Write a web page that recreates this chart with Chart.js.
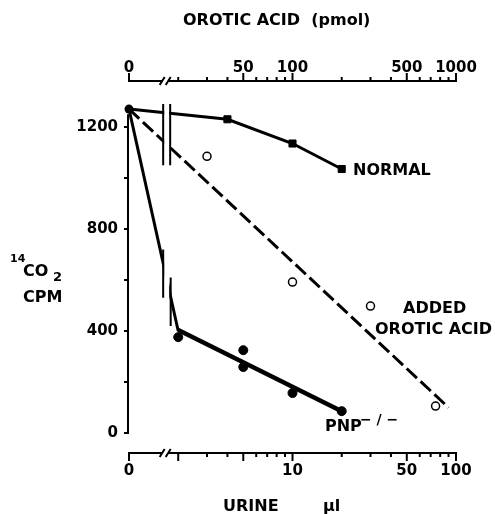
<!DOCTYPE html>
<html>
<head>
<meta charset="utf-8">
<script src="https://cdn.jsdelivr.net/npm/chart.js@4.4.0/dist/chart.umd.min.js"></script>
<style>
  html, body { margin: 0; padding: 0; background: #fff; }
  canvas { display: block; }
</style>
</head>
<body>
<canvas id="chart" width="495" height="514"></canvas>
<script>
// Values: x = urine (µl), y = 14CO2 (cpm)
const startX = [0];
const startY = [1270];

const normalX = [0, 4, 10, 20];
const normalY = [1270, 1230, 1135, 1035];

const addedX = [3, 10, 30, 75];
const addedY = [1085, 592, 498, 106];
const addedLineX = [0, 90];
const addedLineY = [1270, 100];

const pnpX = [2, 5, 5, 10, 20];
const pnpY = [376, 325, 259, 157, 86];
const pnpDropX = [0, 2];
const pnpDropY = [1270, 400];
const pnpFitX = [2, 20];
const pnpFitY = [404, 86];

// Axis ticks
const urineTicks = [0, 2, 3, 4, 5, 6, 7, 8, 9, 10, 20, 30, 40, 50, 60, 70, 80, 90, 100];
const urineLabels = [0, 10, 50, 100];
const urineMajor = [0, 2, 5, 10, 50, 100];
const orotTicks = [0, 20, 30, 40, 50, 60, 70, 80, 90, 100, 200, 300, 400, 500, 600, 700, 800, 900, 1000];
const orotLabels = [0, 50, 100, 500, 1000];
const cpmTicks = [0, 200, 400, 600, 800, 1000, 1200];
const cpmLabels = [0, 400, 800, 1200];

const BLACK = '#000';
const FONT = 'DejaVu Sans';

// log axis that keeps a separate 0 at its left end (broken axis)
class BrokenLogScale extends Chart.Scale {
  determineDataLimits() {
    this.min = 0;
    this.max = this.options.max;
  }
  buildTicks() {
    return this.options.tickValues.map(v => ({ value: v }));
  }
  getLabelForValue(v) {
    return String(v);
  }
  getPixelForValue(v) {
    const low = this.options.low;
    const d = v > 0 ? Math.log10(v / low) / Math.log10(this.max / low) : 0;
    return this.getPixelForDecimal(d);
  }
  getValueForPixel(p) {
    const low = this.options.low;
    return low * Math.pow(this.max / low, this.getDecimalForPixel(p));
  }
}
BrokenLogScale.id = 'brokenLog';
BrokenLogScale.defaults = {};
Chart.register(BrokenLogScale);

function pts(xs, ys) {
  return xs.map((x, i) => ({ x: x, y: ys[i] }));
}

function drawBrokenAxis(ctx, scale, area, yPix, dir, ticks, majors) {
  const bx = scale.getPixelForValue(scale.options.breakAt);
  ctx.beginPath();
  ctx.moveTo(area.left - 1, yPix);
  ctx.lineTo(bx - 5, yPix);
  ctx.moveTo(bx - 7, yPix + 4);
  ctx.lineTo(bx - 2, yPix - 4);
  ctx.moveTo(bx - 1, yPix + 4);
  ctx.lineTo(bx + 4, yPix - 4);
  ctx.moveTo(bx + 2, yPix);
  ctx.lineTo(area.right + 1, yPix);
  ctx.stroke();
  ticks.forEach(v => {
    const px = scale.getPixelForValue(v);
    const len = majors.includes(v) ? 8 : 4;
    ctx.beginPath();
    ctx.moveTo(px, yPix);
    ctx.lineTo(px, yPix + dir * len);
    ctx.stroke();
  });
}

const figureArt = {
  id: 'figureArt',
  afterDatasetsDraw(chart) {
    const { ctx, chartArea: a, scales: { x, y } } = chart;
    const bx = x.getPixelForValue(x.options.breakAt);
    ctx.save();
    // cut the lines where the x axis is broken
    ctx.fillStyle = '#fff';
    ctx.fillRect(bx - 2.5, y.getPixelForValue(1320), 5, y.getPixelForValue(380) - y.getPixelForValue(1320));
    ctx.strokeStyle = BLACK;
    ctx.lineWidth = 2;
    ctx.beginPath();
    ctx.moveTo(bx - 3.5, y.getPixelForValue(1290));
    ctx.lineTo(bx - 3.5, y.getPixelForValue(1050));
    ctx.moveTo(bx + 3.5, y.getPixelForValue(1290));
    ctx.lineTo(bx + 3.5, y.getPixelForValue(1050));
    ctx.moveTo(bx - 3.5, y.getPixelForValue(720));
    ctx.lineTo(bx - 3.5, y.getPixelForValue(530));
    ctx.moveTo(bx + 4, y.getPixelForValue(610));
    ctx.lineTo(bx + 4, y.getPixelForValue(420));
    ctx.stroke();
    ctx.restore();
  },
  afterDraw(chart) {
    const { ctx, chartArea: a, scales: { x, xTop, y } } = chart;
    ctx.save();
    ctx.strokeStyle = BLACK;
    ctx.lineWidth = 2;
    // y axis line, only over the data range
    ctx.beginPath();
    ctx.moveTo(a.left - 1, y.getPixelForValue(0) + 1);
    ctx.lineTo(a.left - 1, y.getPixelForValue(1250));
    ctx.stroke();
    drawBrokenAxis(ctx, x, a, a.bottom, 1, urineTicks, urineMajor);
    drawBrokenAxis(ctx, xTop, a, a.top, -1, orotTicks, orotLabels);

    ctx.fillStyle = BLACK;
    ctx.textAlign = 'left';
    ctx.textBaseline = 'alphabetic';
    ctx.font = 'bold 16px "' + FONT + '"';
    ctx.fillText('OROTIC ACID  (pmol)', 183, 25);
    ctx.fillText('URINE', 223, 511);
    ctx.fillText('µl', 323, 511);
    ctx.fillText('NORMAL', 353, 175);
    ctx.fillText('ADDED', 403, 313);
    ctx.fillText('OROTIC ACID', 375, 334);
    ctx.fillText('PNP', 325, 431);
    ctx.fillText('CO', 23, 276);
    ctx.fillText('CPM', 23, 302);
    ctx.font = 'bold 14px "' + FONT + '"';
    ctx.fillText('− / −', 360, 424);
    ctx.font = 'bold 11px "' + FONT + '"';
    ctx.fillText('14', 10, 262);
    ctx.font = 'bold 13px "' + FONT + '"';
    ctx.fillText('2', 53, 281);
    ctx.restore();
  }
};

const tickFont = { family: FONT, weight: 'bold', size: 15 };

new Chart(document.getElementById('chart'), {
  type: 'scatter',
  data: {
    datasets: [
      {
        label: 'start',
        data: pts(startX, startY),
        pointRadius: 4.5,
        pointBackgroundColor: BLACK,
        pointBorderColor: BLACK,
        borderWidth: 0,
        clip: false
      },
      {
        label: 'PNP-/- points',
        data: pts(pnpX, pnpY),
        pointRadius: 4.5,
        pointBackgroundColor: BLACK,
        pointBorderColor: BLACK,
        clip: false
      },
      {
        label: 'added orotic acid points',
        data: pts(addedX, addedY),
        pointRadius: 4,
        pointBorderWidth: 1.5,
        pointBackgroundColor: '#fff',
        pointBorderColor: BLACK,
        clip: false
      },
      {
        label: 'NORMAL',
        data: pts(normalX, normalY),
        showLine: true,
        borderColor: BLACK,
        borderWidth: 3,
        pointStyle: 'rect',
        pointRadius: [0, 5, 5, 5],
        pointBorderWidth: 1,
        pointBackgroundColor: BLACK,
        pointBorderColor: BLACK,
        clip: false
      },
      {
        label: 'PNP-/- fit',
        data: pts(pnpFitX, pnpFitY),
        showLine: true,
        borderColor: BLACK,
        borderWidth: 4.5,
        pointRadius: 0,
        clip: false
      },
      {
        label: 'PNP-/- drop',
        data: pts(pnpDropX, pnpDropY),
        showLine: true,
        borderColor: BLACK,
        borderWidth: 3,
        pointRadius: 0,
        clip: false
      },
      {
        label: 'added orotic acid line',
        data: pts(addedLineX, addedLineY),
        showLine: true,
        borderColor: BLACK,
        borderWidth: 3,
        borderDash: [14, 5],
        pointRadius: 0,
        clip: false
      }
    ]
  },
  options: {
    responsive: false,
    animation: false,
    layout: { padding: { left: 0, right: 39, top: 0, bottom: 0 } },
    plugins: {
      legend: { display: false },
      tooltip: { enabled: false }
    },
    scales: {
      x: {
        type: 'brokenLog',
        position: 'bottom',
        max: 100,
        low: 1,
        breakAt: 1.7,
        tickValues: urineTicks,
        grid: { display: false, drawTicks: false },
        border: { display: false },
        ticks: {
          autoSkip: false,
          maxRotation: 0,
          padding: 9,
          color: BLACK,
          font: tickFont,
          callback: v => urineLabels.includes(v) ? String(v) : ''
        },
        afterFit: s => { s.height = 61; }
      },
      xTop: {
        type: 'brokenLog',
        position: 'top',
        max: 1000,
        low: 10,
        breakAt: 17,
        tickValues: orotTicks,
        grid: { display: false, drawTicks: false },
        border: { display: false },
        ticks: {
          autoSkip: false,
          maxRotation: 0,
          padding: 4,
          color: BLACK,
          font: tickFont,
          callback: v => orotLabels.includes(v) ? String(v) : ''
        },
        afterFit: s => { s.height = 81; }
      },
      y: {
        type: 'linear',
        min: -78,
        max: 1380,
        afterBuildTicks: s => { s.ticks = cpmTicks.map(v => ({ value: v })); },
        grid: { drawOnChartArea: false, drawTicks: true, tickLength: 5, lineWidth: 2, color: BLACK },
        border: { display: false },
        ticks: {
          padding: 6,
          color: BLACK,
          font: tickFont,
          callback: v => cpmLabels.includes(v) ? String(v) : ''
        },
        afterFit: s => { s.width = 129; }
      }
    }
  },
  plugins: [figureArt]
});
</script>
</body>
</html>
